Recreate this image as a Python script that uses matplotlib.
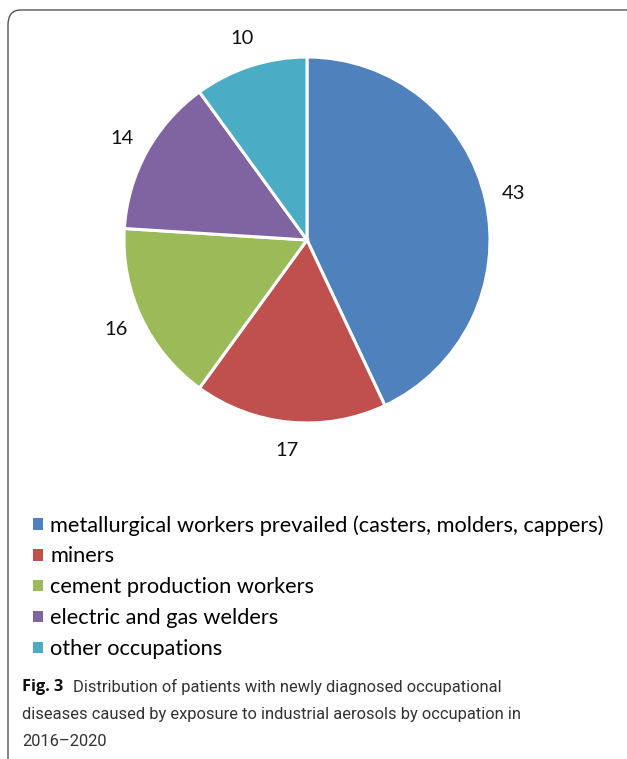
import matplotlib
matplotlib.use("Agg")
import matplotlib.pyplot as plt
from matplotlib.patches import FancyBboxPatch

categories = ["metallurgical workers prevailed (casters, molders, cappers)",
              "miners", "cement production workers",
              "electric and gas welders", "other occupations"]
values = [43, 17, 16, 14, 10]
colors = ["#4F81BD", "#C0504D", "#9BBB59", "#8064A2", "#4BACC6"]
caption_bold = "Fig. 3"
caption_lines = ["Distribution of patients with newly diagnosed occupational",
                 "diseases caused by exposure to industrial aerosols by occupation in",
                 "2016\u20132020"]

W, H = 627, 759
fig = plt.figure(figsize=(W / 100, H / 100), dpi=100)

# border
border = FancyBboxPatch((8 / W, -0.05), 1.2, 1 - 10 / H + 0.05,
                        boxstyle="round,pad=0,rounding_size=0.02",
                        transform=fig.transFigure, fill=False,
                        edgecolor="#555555", linewidth=1.0)
fig.patches.append(border)

cx, cy, r = 307, 240, 183
ax = fig.add_axes([(cx - r) / W, (H - cy - r) / H, 2 * r / W, 2 * r / H])
wedges, texts = ax.pie(values, labels=[str(v) for v in values], colors=colors,
                       startangle=90, counterclock=False, radius=1.0,
                       labeldistance=1.155,
                       wedgeprops=dict(edgecolor="white", linewidth=2.2),
                       textprops=dict(fontsize=14.5, family="Lato", color="#111111"))
for t in texts:
    t.set_ha("center")
    t.set_va("center")
ax.set_xlim(-1, 1)
ax.set_ylim(-1, 1)
ax.set_aspect("equal")
ax.axis("off")

leg = fig.legend(wedges, categories, loc="upper left",
                 bbox_to_anchor=(33 / W, 1 - 515 / H), frameon=False,
                 handlelength=0.45, handleheight=0.45, handletextpad=0.35,
                 labelspacing=0.5, borderpad=0, borderaxespad=0,
                 prop=dict(family="Lato", size=15.7))
for h in leg.legend_handles:
    h.set_edgecolor("none")

y0 = 1 - 687 / H
fig.text(22 / W, y0, caption_bold, fontsize=11.8, fontweight="bold",
         family="Open Sans", va="center", ha="left", color="#111111")
cap_kw = dict(fontsize=11.9, family="Roboto", fontweight="normal",
              va="center", ha="left", color="#333333")
fig.text(73 / W, y0, caption_lines[0], **cap_kw)
fig.text(22 / W, 1 - 714 / H, caption_lines[1], **cap_kw)
fig.text(22 / W, 1 - 742 / H, caption_lines[2], **cap_kw)

fig.savefig("out.png", dpi=100)
